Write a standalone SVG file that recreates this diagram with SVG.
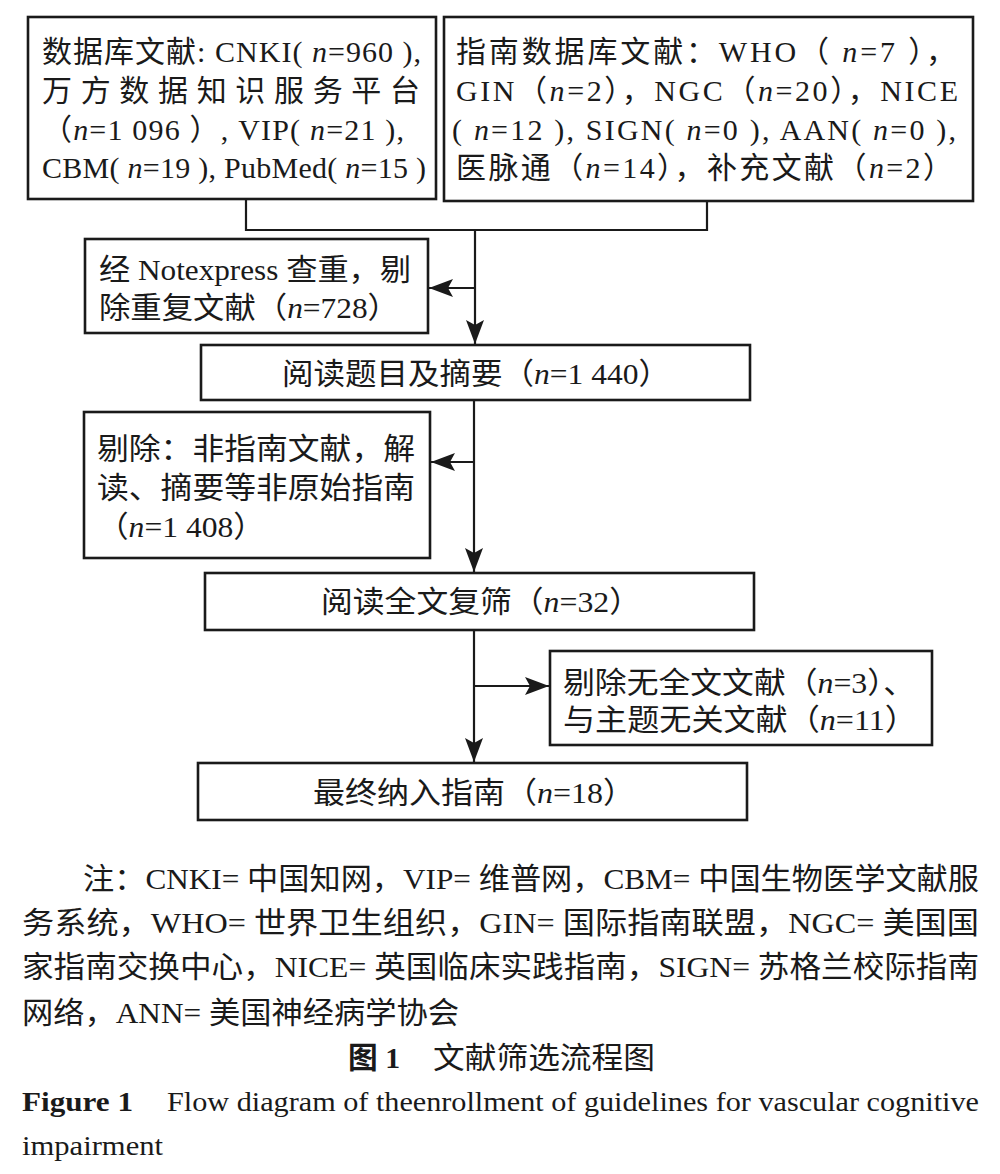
<svg xmlns="http://www.w3.org/2000/svg" width="1000" height="1174" viewBox="0 0 1000 1174">
<style>
.bg{fill:#ffffff}
.box{fill:#ffffff;stroke:#1a1a1a;stroke-width:2.6}
.ln{fill:none;stroke:#1a1a1a;stroke-width:2.2}
text{font-family:"Liberation Serif","Noto Sans CJK SC",serif;font-size:30px;fill:#1a1a1a}
.note{font-size:30px}
.en{font-size:28px}
.b{font-weight:bold}
.i{font-style:italic}
</style>
<defs>
<marker id="ah" markerUnits="userSpaceOnUse" markerWidth="24" markerHeight="18" viewBox="0 0 24 18" refX="24" refY="9" orient="auto">
<path d="M0,0 L24,9 L0,18 L5,9 Z" fill="#1a1a1a"/>
</marker>
</defs>
<rect class="bg" x="0" y="0" width="1000" height="1174"/>

<g id="node-db">
<rect class="box" x="28" y="17" width="408" height="182"/>
<text x="42" y="62" textLength="379">数据库文献: CNKI( <tspan class="i">n</tspan>=960 ),</text>
<text x="42" y="101" textLength="378">万方数据知识服务平台</text>
<text x="42" y="140" textLength="362">（<tspan class="i">n</tspan>=1 096 ）, VIP( <tspan class="i">n</tspan>=21 ),</text>
<text x="42" y="178" textLength="384">CBM( <tspan class="i">n</tspan>=19 ), PubMed( <tspan class="i">n</tspan>=15 )</text>
</g>

<g id="node-guide">
<rect class="box" x="444" y="17" width="529" height="184"/>
<text x="456" y="62" textLength="500">指南数据库文献：WHO（ <tspan class="i">n</tspan>=7 ），</text>
<text x="456" y="101" textLength="502">GIN（<tspan class="i">n</tspan>=2），NGC（<tspan class="i">n</tspan>=20），NICE</text>
<text x="452" y="140" textLength="504">( <tspan class="i">n</tspan>=12 ), SIGN( <tspan class="i">n</tspan>=0 ), AAN( <tspan class="i">n</tspan>=0 ),</text>
<text x="456" y="178" textLength="497">医脉通（<tspan class="i">n</tspan>=14），补充文献（<tspan class="i">n</tspan>=2）</text>
</g>

<g id="node-dedup">
<rect class="box" x="85" y="239" width="343" height="94"/>
<text x="99" y="280" textLength="312" lengthAdjust="spacingAndGlyphs">经 Notexpress 查重，剔</text>
<text x="99" y="318" textLength="300" lengthAdjust="spacingAndGlyphs">除重复文献（<tspan class="i">n</tspan>=728）</text>
</g>

<g id="node-title">
<rect class="box" x="201" y="345" width="549" height="55"/>
<text x="282" y="384" textLength="388" lengthAdjust="spacingAndGlyphs">阅读题目及摘要（<tspan class="i">n</tspan>=1 440）</text>
</g>

<g id="node-excl1">
<rect class="box" x="84" y="412" width="346" height="146"/>
<text x="97" y="459" textLength="318" lengthAdjust="spacingAndGlyphs">剔除：非指南文献，解</text>
<text x="97" y="498" textLength="318" lengthAdjust="spacingAndGlyphs">读、摘要等非原始指南</text>
<text x="97" y="537" textLength="168" lengthAdjust="spacingAndGlyphs">（<tspan class="i">n</tspan>=1 408）</text>
</g>

<g id="node-full">
<rect class="box" x="205" y="573" width="549" height="57"/>
<text x="321" y="612" textLength="320" lengthAdjust="spacingAndGlyphs">阅读全文复筛（<tspan class="i">n</tspan>=32）</text>
</g>

<g id="node-excl2">
<rect class="box" x="550" y="651" width="382" height="94"/>
<text x="563" y="693" textLength="352" lengthAdjust="spacingAndGlyphs">剔除无全文文献（<tspan class="i">n</tspan>=3）、</text>
<text x="563" y="730" textLength="354" lengthAdjust="spacingAndGlyphs">与主题无关文献（<tspan class="i">n</tspan>=11）</text>
</g>

<g id="node-final">
<rect class="box" x="198" y="763" width="549" height="57"/>
<text x="313" y="803" textLength="322" lengthAdjust="spacingAndGlyphs">最终纳入指南（<tspan class="i">n</tspan>=18）</text>
</g>

<g id="connectors">
<path class="ln" d="M246,199 V230 H707 V201"/>
<path class="ln" d="M475,230 V344" marker-end="url(#ah)"/>
<path class="ln" d="M475,288 H429" marker-end="url(#ah)"/>
<path class="ln" d="M474,400 V572" marker-end="url(#ah)"/>
<path class="ln" d="M474,462 H431" marker-end="url(#ah)"/>
<path class="ln" d="M474,630 V762" marker-end="url(#ah)"/>
<path class="ln" d="M474,686 H549" marker-end="url(#ah)"/>
</g>

<g id="notes">
<text class="note" x="83" y="889" textLength="896" lengthAdjust="spacingAndGlyphs">注：CNKI= 中国知网，VIP= 维普网，CBM= 中国生物医学文献服</text>
<text class="note" x="22" y="933" textLength="957" lengthAdjust="spacingAndGlyphs">务系统，WHO= 世界卫生组织，GIN= 国际指南联盟，NGC= 美国国</text>
<text class="note" x="22" y="977" textLength="957" lengthAdjust="spacingAndGlyphs">家指南交换中心，NICE= 英国临床实践指南，SIGN= 苏格兰校际指南</text>
<text class="note" x="22" y="1023" textLength="437" lengthAdjust="spacingAndGlyphs">网络，ANN= 美国神经病学协会</text>
<text class="note b" x="348" y="1068" textLength="52" lengthAdjust="spacingAndGlyphs">图 1</text>
<text class="note" x="433" y="1068" textLength="222" lengthAdjust="spacingAndGlyphs">文献筛选流程图</text>
<text class="en b" x="22" y="1111" textLength="111" lengthAdjust="spacingAndGlyphs">Figure 1</text>
<text class="en" x="167" y="1111" textLength="812" lengthAdjust="spacingAndGlyphs">Flow diagram of theenrollment of guidelines for vascular cognitive</text>
<text class="en" x="22" y="1155" textLength="141" lengthAdjust="spacingAndGlyphs">impairment</text>
</g>
</svg>
